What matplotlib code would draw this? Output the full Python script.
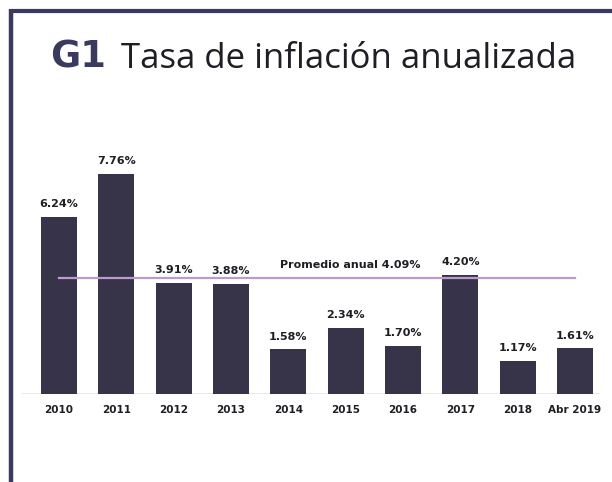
import matplotlib
matplotlib.use("Agg")
import matplotlib.pyplot as plt
from matplotlib.lines import Line2D

categories = ["2010", "2011", "2012", "2013", "2014", "2015", "2016", "2017", "2018", "Abr 2019"]
values = [6.24, 7.76, 3.91, 3.88, 1.58, 2.34, 1.70, 4.20, 1.17, 1.61]
value_labels = ["6.24%", "7.76%", "3.91%", "3.88%", "1.58%", "2.34%", "1.70%", "4.20%", "1.17%", "1.61%"]
average = 4.09
average_label = "Promedio anual 4.09%"
title_num = "G1"
title_text = "Tasa de inflación anualizada"

W, H = 612, 482
fig = plt.figure(figsize=(W / 100, H / 100), dpi=100)
fig.patch.set_facecolor("white")

navy = "#3a3a5e"
bar_color = "#37344a"
text_color = "#1e1e24"
avg_color = "#b99ccb"

# frame
fig.add_artist(Line2D([11 / W, 11 / W], [0, (H - 9) / H], color=navy, lw=3.2, transform=fig.transFigure, solid_capstyle="butt"))
fig.add_artist(Line2D([9.5 / W, 1], [(H - 10.5) / H, (H - 10.5) / H], color=navy, lw=3.0, transform=fig.transFigure, solid_capstyle="butt"))

# title
fig.text(50 / W, (H - 68) / H, title_num, fontsize=26.5, fontweight="bold", family=["DejaVu Sans"], color=navy, va="baseline", ha="left")
fig.text(121 / W, (H - 68) / H, title_text, fontsize=25, fontweight="normal", family=["Open Sans", "DejaVu Sans"], color=text_color, va="baseline", ha="left")

left_px, right_px = 22, 600
base_px, top_px = 394, 120
ax = fig.add_axes([left_px / W, (H - base_px) / H, (right_px - left_px) / W, (base_px - top_px) / H])
ax.set_facecolor("none")
n = len(categories)
x = list(range(n))
spacing = (575 - 59) / (n - 1)
ax.set_xlim(-(59 - left_px) / spacing, (n - 1) + (right_px - 575) / spacing)
ppu = (394 - 174) / 7.76
ax.set_ylim(0, (base_px - top_px) / ppu)

ax.bar(x, values, width=0.63, color=bar_color, zorder=2)
ax.axhline(0, color="#e4e4e4", lw=1.2, zorder=1)
ax.plot([x[0], x[-1]], [average, average], color=avg_color, lw=1.6, zorder=3)

lab_font = dict(fontsize=8, fontweight="bold", family=["DejaVu Sans"], color=text_color)
for xi, v, lab in zip(x, values, value_labels):
    ax.text(xi, v + 0.27, lab, ha="center", va="bottom", zorder=4, **lab_font)

ax.text(5.08, average + 0.27, average_label, ha="center", va="bottom", zorder=4, **lab_font)

ax.set_xticks(x)
ax.set_xticklabels(categories, fontsize=7.5, fontweight="bold", family=["DejaVu Sans"], color=text_color)
ax.tick_params(axis="x", length=0, pad=8)
ax.set_yticks([])
for s in ax.spines.values():
    s.set_visible(False)

fig.savefig("out.png", dpi=100, facecolor="white")
